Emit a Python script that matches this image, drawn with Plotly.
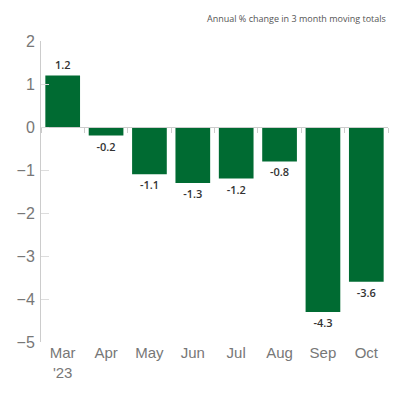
import plotly.graph_objects as go

# monthly values, annual % change in 3 month moving totals
months = ['Mar', 'Apr', 'May', 'Jun', 'Jul', 'Aug', 'Sep', 'Oct']
month_labels = ["Mar<br>'23", 'Apr', 'May', 'Jun', 'Jul', 'Aug', 'Sep', 'Oct']
values = [1.2, -0.2, -1.1, -1.3, -1.2, -0.8, -4.3, -3.6]
y_ticks = [2, 1, 0, -1, -2, -3, -4, -5]

y_min, y_max = -5, 2
bar_green = '#006b32'

fig = go.Figure()
fig.add_trace(go.Bar(
    x=months, y=values,
    marker_color=bar_green, marker_line_width=0,
    text=[f'{v:.1f}' for v in values],
    textposition='outside', cliponaxis=False,
    textfont=dict(family='Open Sans', size=11, color='#333333', weight=600),
    hoverinfo='skip',
))
# invisible trace so the axis sitting on the zero line gets its boundary ticks
fig.add_trace(go.Scatter(x=months, y=[0] * len(months), xaxis='x2',
                         mode='lines', line=dict(width=0),
                         hoverinfo='skip', showlegend=False))

zero_pos = (0 - y_min) / (y_max - y_min)

fig.update_layout(
    width=400, height=400,
    margin=dict(l=41, r=12, t=41, b=58),
    plot_bgcolor='white', paper_bgcolor='white',
    showlegend=False, bargap=0.2,
    font=dict(family='Liberation Sans', color='#777777'),
    xaxis=dict(
        tickvals=months, ticktext=month_labels,
        showline=False, showgrid=False, ticks='', automargin=False,
        tickfont=dict(size=15, color='#777777'),
    ),
    xaxis2=dict(
        overlaying='x', matches='x', anchor='free', position=zero_pos,
        showline=True, linecolor='#cccccc', linewidth=1, automargin=False,
        showgrid=False, showticklabels=False,
        ticks='outside', tickson='boundaries', ticklen=5, tickcolor='#cccccc',
    ),
    yaxis=dict(
        range=[y_min, y_max], tickvals=y_ticks, automargin=False,
        showline=True, linecolor='#cccccc', linewidth=1,
        showgrid=False, zeroline=False,
        ticks='inside', ticklen=8, tickcolor='#dddddd',
        tickfont=dict(size=16, color='#777777'),
        ticklabelstandoff=2,
    ),
    annotations=[dict(
        text='Annual % change in 3 month moving totals',
        xref='paper', yref='paper', x=1.0, y=1.0, yshift=23,
        xanchor='right', yanchor='middle', showarrow=False,
        font=dict(family='Open Sans', size=9, color='#555555'),
    )],
)

# the page body has a default 8px margin, drop it so the chart sits at 0,0
fig.write_html('out.html', config={'displayModeBar': False},
               post_script="document.body.style.margin='0';")
